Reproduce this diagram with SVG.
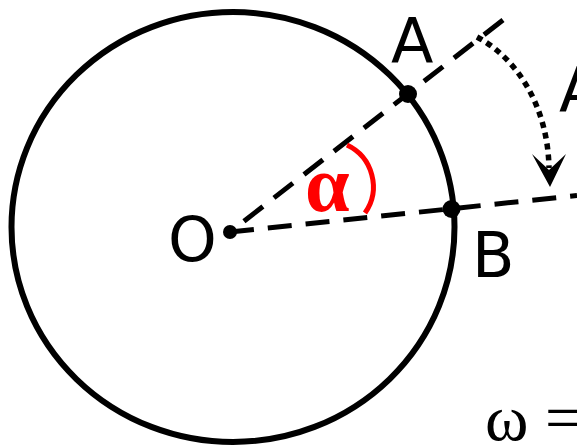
<svg xmlns="http://www.w3.org/2000/svg" width="577" height="446" viewBox="0 0 577 446">
<style>
.lbl{font-family:"DejaVu Sans","Liberation Sans",sans-serif;font-size:62px;fill:#000}
.dash{fill:none;stroke:#000;stroke-width:5;stroke-dasharray:24 14}
.dot{fill:#000}
</style>
<rect width="577" height="446" fill="#fff"/>
<g id="circle">
<ellipse cx="233" cy="227" rx="221.5" ry="215" fill="none" stroke="#000" stroke-width="6"/>
</g>
<g id="connectors">
<line class="dash" x1="503" y1="20" x2="230" y2="232"/>
<line class="dash" x1="230" y1="232" x2="577" y2="195.5"/>
<path d="M477,37 C520,60 548,110 549,168" fill="none" stroke="#000" stroke-width="5.5" stroke-dasharray="6 5"/>
<polygon points="550,187 532,154 549,170 566,154" fill="#000"/>
<path d="M347,145 A46 46 0 0 1 365,213" fill="none" stroke="#f00" stroke-width="5"/>
</g>
<g id="O">
<circle class="dot" cx="230" cy="232" r="7"/>
<text class="lbl" x="168" y="261">O</text>
</g>
<g id="A">
<circle class="dot" cx="408" cy="94" r="9"/>
<text class="lbl" x="391" y="63">A</text>
</g>
<g id="B">
<circle class="dot" cx="451.5" cy="209" r="9"/>
<text class="lbl" x="472" y="277">B</text>
</g>
<g id="A2">
<text class="lbl" x="559" y="112">A</text>
</g>
<g id="alpha">
<text x="305" y="211" font-family="Liberation Serif,serif" font-weight="bold" font-size="80" fill="#f00">α</text>
</g>
<g id="omega">
<text x="485" y="440" font-family="Liberation Serif,serif" font-size="66" fill="#000">ω =</text>
</g>
</svg>
